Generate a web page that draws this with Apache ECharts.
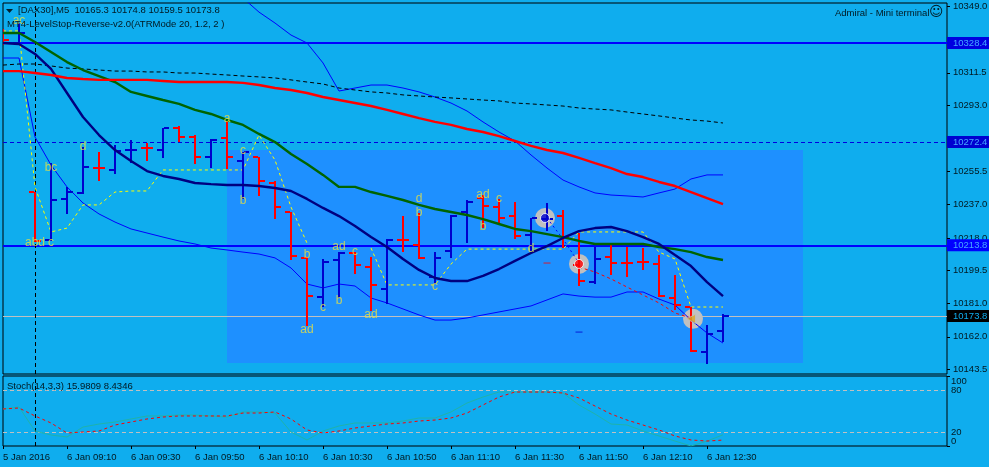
<!DOCTYPE html>
<html><head><meta charset="utf-8">
<style>html,body{margin:0;padding:0;background:#0FADEE;overflow:hidden}#c{width:989px;height:467px}</style>
<script src="https://cdn.jsdelivr.net/npm/echarts@6/dist/echarts.min.js"></script>
</head><body><div id="c"></div>
<script>
const categories=["5 Jan 2016","6 Jan 08:55","6 Jan 09:00","6 Jan 09:05","6 Jan 09:10","6 Jan 09:15","6 Jan 09:20","6 Jan 09:25","6 Jan 09:30","6 Jan 09:35","6 Jan 09:40","6 Jan 09:45","6 Jan 09:50","6 Jan 09:55","6 Jan 10:00","6 Jan 10:05","6 Jan 10:10","6 Jan 10:15","6 Jan 10:20","6 Jan 10:25","6 Jan 10:30","6 Jan 10:35","6 Jan 10:40","6 Jan 10:45","6 Jan 10:50","6 Jan 10:55","6 Jan 11:00","6 Jan 11:05","6 Jan 11:10","6 Jan 11:15","6 Jan 11:20","6 Jan 11:25","6 Jan 11:30","6 Jan 11:35","6 Jan 11:40","6 Jan 11:45","6 Jan 11:50","6 Jan 11:55","6 Jan 12:00","6 Jan 12:05","6 Jan 12:10","6 Jan 12:15","6 Jan 12:20","6 Jan 12:25","6 Jan 12:30","6 Jan 12:35","","","","","","","","","","","","","",""];
const open=[10335.8,10328.4,10244.0,10216.8,10240.1,10243.5,10257.7,10256.5,10267.8,10269.0,10267.8,10280.3,10275.2,10263.8,10274.6,10261.6,10263.8,10249.1,10232.7,10206.7,10184.5,10205.5,10209.5,10201.5,10189.1,10216.9,10214.0,10195.9,10210.6,10232.7,10240.6,10235.5,10230.4,10219.7,10228.7,10230.4,10202.7,10193.0,10207.2,10203.9,10204.5,10203.2,10184.0,10178.9,10153.4,10165.3];
const high=[10336.3,10339.7,10244.0,10260.4,10246.8,10269.5,10266.7,10270.6,10273.5,10271.8,10280.3,10281.4,10276.3,10274.0,10285.4,10266.7,10263.8,10250.2,10232.7,10207.2,10206.1,10210.0,10210.0,10207.2,10217.4,10230.4,10232.1,10210.0,10231.0,10239.5,10242.3,10240.1,10238.4,10229.3,10237.8,10233.8,10220.8,10212.9,10215.1,10212.9,10212.3,10208.3,10197.0,10178.9,10168.7,10174.8];
const low=[10327.8,10327.8,10216.3,10216.8,10232.1,10243.5,10250.8,10254.8,10261.0,10262.1,10263.8,10272.9,10260.4,10258.2,10257.6,10240.6,10242.3,10229.3,10206.1,10168.7,10179.5,10184.5,10198.1,10177.2,10181.2,10210.6,10206.7,10192.5,10207.2,10215.7,10224.2,10226.5,10218.0,10211.2,10222.5,10212.9,10191.4,10192.5,10197.6,10196.5,10200.4,10185.1,10177.8,10154.0,10147.2,10159.5];
const close=[10330.1,10334.1,10216.3,10239.5,10244.0,10258.2,10257.6,10267.2,10267.9,10268.9,10280.3,10275.2,10263.8,10273.5,10263.8,10266.7,10250.2,10235.5,10207.8,10185.1,10204.4,10209.5,10202.7,10191.4,10216.8,10216.8,10206.7,10206.7,10230.4,10238.4,10236.1,10229.3,10219.1,10229.3,10228.8,10218.5,10193.6,10206.1,10203.8,10203.8,10204.4,10185.1,10180.0,10154.0,10163.6,10173.8];
const maFast=[10328.4,10327.8,10322.2,10313.7,10300.1,10286.5,10276.3,10267.8,10261.6,10255.9,10253.1,10251.4,10249.1,10248.5,10248.0,10248.0,10247.4,10246.3,10244.6,10240.1,10235.0,10230.4,10224.8,10218.5,10212.9,10206.1,10199.9,10195.3,10193.6,10193.6,10196.5,10200.4,10205.0,10209.5,10213.4,10218.0,10221.9,10223.6,10224.2,10221.9,10218.5,10214.6,10208.3,10202.1,10193.0,10185.1];
const maMid=[10334.1,10334.1,10329.0,10323.3,10317.6,10313.1,10309.7,10306.3,10300.7,10298.4,10296.1,10293.9,10290.5,10288.2,10284.8,10282.0,10276.9,10272.3,10265.5,10259.9,10253.7,10246.9,10246.9,10244.0,10241.8,10239.5,10236.7,10234.4,10232.7,10231.0,10228.7,10225.9,10223.1,10221.9,10220.2,10218.5,10216.3,10214.6,10214.6,10214.6,10214.6,10212.9,10211.7,10210.0,10207.2,10205.5];
const maSlow=[10312.5,10312.5,10311.4,10310.3,10308.6,10308.0,10307.5,10307.5,10307.5,10307.5,10306.9,10306.3,10306.3,10306.3,10306.3,10305.8,10304.6,10302.9,10301.8,10300.1,10297.8,10296.1,10294.4,10292.7,10290.5,10288.2,10285.9,10283.7,10282.0,10279.7,10278.0,10275.7,10272.9,10270.1,10267.8,10266.1,10263.3,10260.4,10257.6,10254.2,10252.5,10249.7,10247.4,10244.0,10240.6,10237.2];
const dashedMa=[10315.9,10316.5,10316.5,10315.4,10314.2,10313.7,10313.1,10312.5,10312.5,10312.0,10312.0,10311.4,10311.4,10310.8,10310.3,10309.7,10309.2,10308.6,10307.5,10306.3,10305.2,10302.9,10301.8,10300.7,10300.1,10299.0,10298.4,10297.8,10297.3,10296.7,10296.1,10295.6,10294.4,10293.9,10293.3,10292.7,10291.6,10291.0,10290.5,10289.3,10288.2,10287.1,10285.9,10284.8,10284.2,10283.1];
const upperBand=[null,null,null,null,null,null,null,null,null,null,null,null,null,null,10360.7,10353.9,10345.9,10339.7,10332.9,10328.4,10317.1,10301.2,10302.9,10304.6,10304.6,10302.9,10300.7,10297.8,10294.4,10289.9,10283.7,10278.0,10272.9,10265.0,10257.6,10250.8,10246.9,10243.5,10242.3,10241.8,10241.2,10243.5,10245.7,10251.4,10253.7,10253.7];
const lowerBand=[10319.9,10319.9,10275.2,10259.3,10246.9,10237.8,10231.6,10227.0,10223.1,10220.8,10218.5,10216.3,10214.6,10212.3,10211.2,10210.0,10208.9,10206.7,10201.0,10191.9,10189.7,10191.9,10190.8,10184.0,10181.2,10177.8,10174.4,10171.5,10171.5,10172.7,10174.4,10176.1,10177.8,10179.5,10182.9,10186.3,10185.1,10184.5,10184.5,10187.4,10187.4,10183.4,10180.0,10171.5,10164.2,10158.5];
const levelStop=[10335.2,10335.2,10246.9,10221.4,10223.6,10236.7,10236.7,10244.0,10244.6,10244.6,10256.5,10256.5,10256.5,10256.5,10256.5,10256.5,10276.3,10262.1,10235.5,10215.1,null,null,null,10212.3,10191.4,10191.4,10191.4,10191.4,10203.2,10211.7,10211.7,10211.7,10211.7,10211.7,10211.7,10211.7,10221.4,10221.4,10221.4,10221.4,10221.4,10210.0,10206.1,10178.9,10178.9,10178.9];
const redDotted=[null,null,null,null,null,null,null,null,null,null,null,null,null,null,null,null,null,null,null,null,null,null,null,null,null,null,null,null,null,null,null,null,null,null,null,null,10201.5,10198.7,10194.8,10190.2,10185.7,10181.2,10175.5,10172.7];
const blueDotted=[null,null,null,null,null,null,null,null,null,null,null,null,null,null,null,null,null,null,null,null,null,null,null,null,null,null,null,null,null,null,null,null,null,null,10229.3,10217.4,10203.8];
const stochMain=[52.9,55.7,21.4,15.7,12.9,27.1,31.4,34.3,38.6,42.9,42.9,44.3,44.3,42.9,41.4,48.6,48.6,47.1,20,8.6,21.4,28.6,32.9,32.9,32.9,35.7,40,40,48.6,61.4,70,77.1,77.1,77.1,77.1,75.7,58.6,45.7,31.4,30,21.4,14.3,7.1,0,7.1,15.98];
const stochSignal=[52.9,54.3,42.9,32.9,18.6,20,21.4,30,34.3,38.6,41.4,42.9,42.9,42.9,42.9,47.1,47.1,48.6,38.6,22.9,18.6,21.4,25.7,28.6,31.4,32.9,35.7,37.1,40,47.1,58.6,70,77.1,77.1,77.1,75.7,68.6,57.1,45.7,37.1,30,22.9,14.3,8.6,7.1,8.43];
const labelIdx=[1,3,5,2,3,14,15,15,19,20,19,21,21,22,23,26,26,27,30,30,31,33];
const labelPrice=[10340.9,10257.6,10269.5,10215.1,10215.1,10285.4,10267.2,10238.9,10208.3,10178.3,10165.9,10212.9,10182.3,10210.0,10174.4,10240.1,10232.1,10190.2,10242.3,10224.2,10240.1,10211.7];
const labelText=["ac","bc","d","abd","c","a","c","b","b","c","ad","ad","b","c","ad","d","b","c","ad","b","c","d"];
const circleIdx=[34,36,43];
const circlePrice=[10229.3,10203.3,10172.2];
const stubIdx=[34,36];
const stubPrice=[10203.8,10164.7];
const priceTicks=[10349,10311.5,10293,10255.5,10237,10218,10199.5,10181,10162,10143.5];
const stochInnerTicks=[20,80];
const stochEdgeTicks=[0,100];
const levelSolidA=10328.4, levelDashed=10272.4, levelSolidB=10213.8, levelLast=10173.8;
const zoneTop=10267.8, zoneBottom=10147.2, zoneStart=14, zoneEnd=50;
const crossIdx=2;

const BG='#0FADEE', AREA='#1E90FF', INK='#021820', FONT='"Liberation Sans",sans-serif', FS=9.5;
const bars=open.map((o,i)=>[i,o,high[i],low[i],close[i]]);
function renderBar(p,api){
  const i=api.value(0),O=api.value(1),H=api.value(2),L=api.value(3),C=api.value(4);
  const x=Math.round(api.coord([i,O])[0]);
  const y=v=>Math.round(api.coord([i,v])[1]);
  const col=C>=O?'#0000CD':'#FF0000';
  const r=(a,b,w,h)=>({type:'rect',shape:{x:a,y:b,width:w,height:h},style:{fill:col}});
  return {type:'group',children:[r(x-1,y(H),2,y(L)-y(H)+1),r(x-6,y(O)-1,5,2),r(x+1,y(C)-1,5,2)]};
}
function tagLine(v,bg,fg,ls){return {yAxis:v,lineStyle:ls,label:{show:true,position:'end',distance:0,formatter:v.toFixed(1),backgroundColor:bg,color:fg,fontFamily:FONT,fontSize:FS,padding:[1,4,1,6],width:32,align:'left'}};}
const thin=(name,data,color,w,type,z)=>({name,type:'line',data,symbol:'none',xAxisIndex:0,yAxisIndex:0,z,silent:true,lineStyle:{color,width:w,type:type||'solid'},connectNulls:false,clip:true,animation:false});
const dash=(v)=>({yAxis:v,lineStyle:{color:'#C0C0C0',width:1,type:[4,3]},label:{show:false}});

const option={
 animation:false,backgroundColor:BG,
 grid:[{left:3,right:42,top:3,height:371,show:true,borderColor:'#000',borderWidth:1,backgroundColor:BG,outerBoundsMode:'none'},
       {left:3,right:42,top:376,height:70,show:true,borderColor:'#000',borderWidth:1,backgroundColor:BG,outerBoundsMode:'none'}],
 xAxis:[
  {type:'category',gridIndex:0,data:categories,boundaryGap:false,axisLine:{show:false},axisTick:{show:false},axisLabel:{show:false},splitLine:{show:false}},
  {type:'category',gridIndex:1,data:categories,boundaryGap:false,axisLine:{show:false},
   axisTick:{show:true,length:3,lineStyle:{color:'#000'},interval:(i,v)=>v!==''&&i%4===0},
   axisLabel:{interval:3,align:'left',color:INK,fontFamily:FONT,fontSize:FS,margin:6,showMaxLabel:false,showMinLabel:true},splitLine:{show:false}}],
 yAxis:[
  {type:'value',gridIndex:0,position:'right',min:10140.96,max:10351.05,scale:true,splitLine:{show:false},axisLine:{show:false},
   axisTick:{show:true,length:3,lineStyle:{color:'#000'},customValues:priceTicks},
   axisLabel:{color:INK,fontFamily:FONT,fontSize:FS,margin:6,customValues:priceTicks,formatter:v=>v.toFixed(1)}},
  {type:'value',gridIndex:1,position:'right',min:0,max:100,splitLine:{show:false},axisLine:{show:false},
   axisTick:{show:false},
   axisLabel:{color:INK,fontFamily:FONT,fontSize:FS,margin:4,customValues:stochInnerTicks}},
  {type:'value',gridIndex:1,position:'right',min:0,max:100,splitLine:{show:false},axisLine:{show:false},
   axisTick:{show:true,length:3,lineStyle:{color:'#000'},customValues:stochEdgeTicks},
   axisLabel:{color:INK,fontFamily:FONT,fontSize:FS,margin:4,customValues:stochEdgeTicks,showMinLabel:true,showMaxLabel:true,verticalAlignMinLabel:'bottom',verticalAlignMaxLabel:'top'}}],
 series:[
  {name:'zone',type:'line',data:[],xAxisIndex:0,yAxisIndex:0,z:1,silent:true,
   markArea:{silent:true,itemStyle:{color:AREA,opacity:1},data:[[{xAxis:zoneStart,yAxis:zoneTop},{xAxis:zoneEnd,yAxis:zoneBottom}]]}},
  {name:'levels',type:'line',data:[],xAxisIndex:0,yAxisIndex:0,z:2,silent:true,
   markLine:{silent:true,symbol:'none',animation:false,data:[
     tagLine(levelSolidA,'#0000E0','#45A8FF',{color:'#0000FF',width:2,type:'solid'}),
     tagLine(levelDashed,'#0000D0','#45A8FF',{color:'#0000E0',width:1,type:[4,3]}),
     tagLine(levelSolidB,'#0000FF','#45A8FF',{color:'#0000FF',width:2,type:'solid'}),
     tagLine(levelLast,'#000000','#0FADEE',{color:'#C0C0C0',width:1,type:'solid'})]}},
  {name:'crosshair',type:'line',data:[],xAxisIndex:0,yAxisIndex:0,z:3,silent:true,
   markLine:{silent:true,symbol:'none',animation:false,label:{show:false},lineStyle:{color:'#000',width:1,type:[4,3]},data:[{xAxis:crossIdx}]}},
  {name:'crosshair2',type:'line',data:[],xAxisIndex:1,yAxisIndex:1,z:3,silent:true,
   markLine:{silent:true,symbol:'none',animation:false,label:{show:false},lineStyle:{color:'#000',width:1,type:[4,3]},data:[{xAxis:crossIdx}]}},
  {name:'edgeAxisAnchor',type:'line',data:[],xAxisIndex:1,yAxisIndex:2,silent:true},
  {name:'circles',type:'scatter',xAxisIndex:0,yAxisIndex:0,z:4,silent:true,symbolSize:20,itemStyle:{color:'#C0C0C0',opacity:1},
   data:circleIdx.map((x,i)=>({value:[x,circlePrice[i]],symbolOffset:[[-2,0],[0,0],[2,0]][i]}))},
  {name:'stubs',type:'scatter',xAxisIndex:0,yAxisIndex:0,z:5,silent:true,symbol:'rect',symbolSize:[7,1],
   data:stubIdx.map((x,i)=>({value:[x,stubPrice[i]],itemStyle:{color:['#FF0000','#0000CD'][i]}}))},
  thin('upper',upperBand,'#0000FF',1,'solid',6),
  thin('lower',lowerBand,'#0000FF',1,'solid',6),
  thin('dashedMa',dashedMa,'#000000',1,[4,3],6),
  thin('levelStop',levelStop,'#FFFF00',1,[3,3],6),
  thin('redDotted',redDotted,'#FF0000',1,[3,3],6),
  thin('blueDotted',blueDotted,'#0000FF',1,[2,3],6),
  {name:'bars',type:'custom',renderItem:renderBar,data:bars,xAxisIndex:0,yAxisIndex:0,z:7,silent:true,clip:true,encode:{x:0,y:[1,2,3,4]}},
  thin('maMid',maMid,'#006400',2.4,'solid',8),
  thin('maFast',maFast,'#000080',2.4,'solid',8),
  thin('maSlow',maSlow,'#FF0000',2.4,'solid',8),
  {name:'glyphs',type:'scatter',xAxisIndex:0,yAxisIndex:0,z:9,silent:true,symbolSize:9,
   data:circleIdx.map((x,i)=>({value:[x,circlePrice[i]],symbol:['circle','circle','triangle'][i],symbolRotate:[0,0,90][i],symbolOffset:[[-2,0],[0,0],[0,0]][i],
     itemStyle:{color:['#0000CD','#FF0000','#DAA520'][i],borderColor:['#fff','#fff','#C0C0C0'][i],borderWidth:1}}))},
  {name:'tags',type:'scatter',xAxisIndex:0,yAxisIndex:0,z:10,silent:true,symbolSize:0,
   data:labelIdx.map((x,i)=>({value:[x,labelPrice[i]],label:{show:true,position:'inside',formatter:labelText[i],color:'#E8E040',fontFamily:FONT,fontSize:12}}))},
  {name:'stochMain',type:'line',data:stochMain,symbol:'none',xAxisIndex:1,yAxisIndex:1,z:5,silent:true,lineStyle:{color:'#20B2AA',width:1},
   markLine:{silent:true,symbol:'none',animation:false,data:[dash(80),dash(20)]}},
  {name:'stochSignal',type:'line',data:stochSignal,symbol:'none',xAxisIndex:1,yAxisIndex:1,z:6,silent:true,lineStyle:{color:'#FF0000',width:1,type:[3,3]}}
 ],
 graphic:[
  {type:'polygon',z:100,shape:{points:[[6,9],[13,9],[9.5,13]]},style:{fill:'#04212E'}},
  {type:'text',z:100,left:18,top:5,style:{text:'[DAX30],M5  10165.3 10174.8 10159.5 10173.8',font:FS+'px '+FONT,fill:INK}},
  {type:'text',z:100,left:7,top:19,style:{text:'MT4-LevelStop-Reverse-v2.0(ATRMode 20, 1.2, 2 )',font:FS+'px '+FONT,fill:INK}},
  {type:'text',z:100,left:835,top:8,style:{text:'Admiral - Mini terminal',font:FS+'px '+FONT,fill:INK}},
  {type:'text',z:100,left:929,top:5,style:{text:'\u263A',font:'14px "DejaVu Sans"',fill:INK}},
  {type:'text',z:100,left:7,top:381,style:{text:'Stoch(14,3,3) 15.9809 8.4346',font:FS+'px '+FONT,fill:INK}}
 ]
};
echarts.init(document.getElementById('c'),null,{renderer:'canvas'}).setOption(option);
</script></body></html>
